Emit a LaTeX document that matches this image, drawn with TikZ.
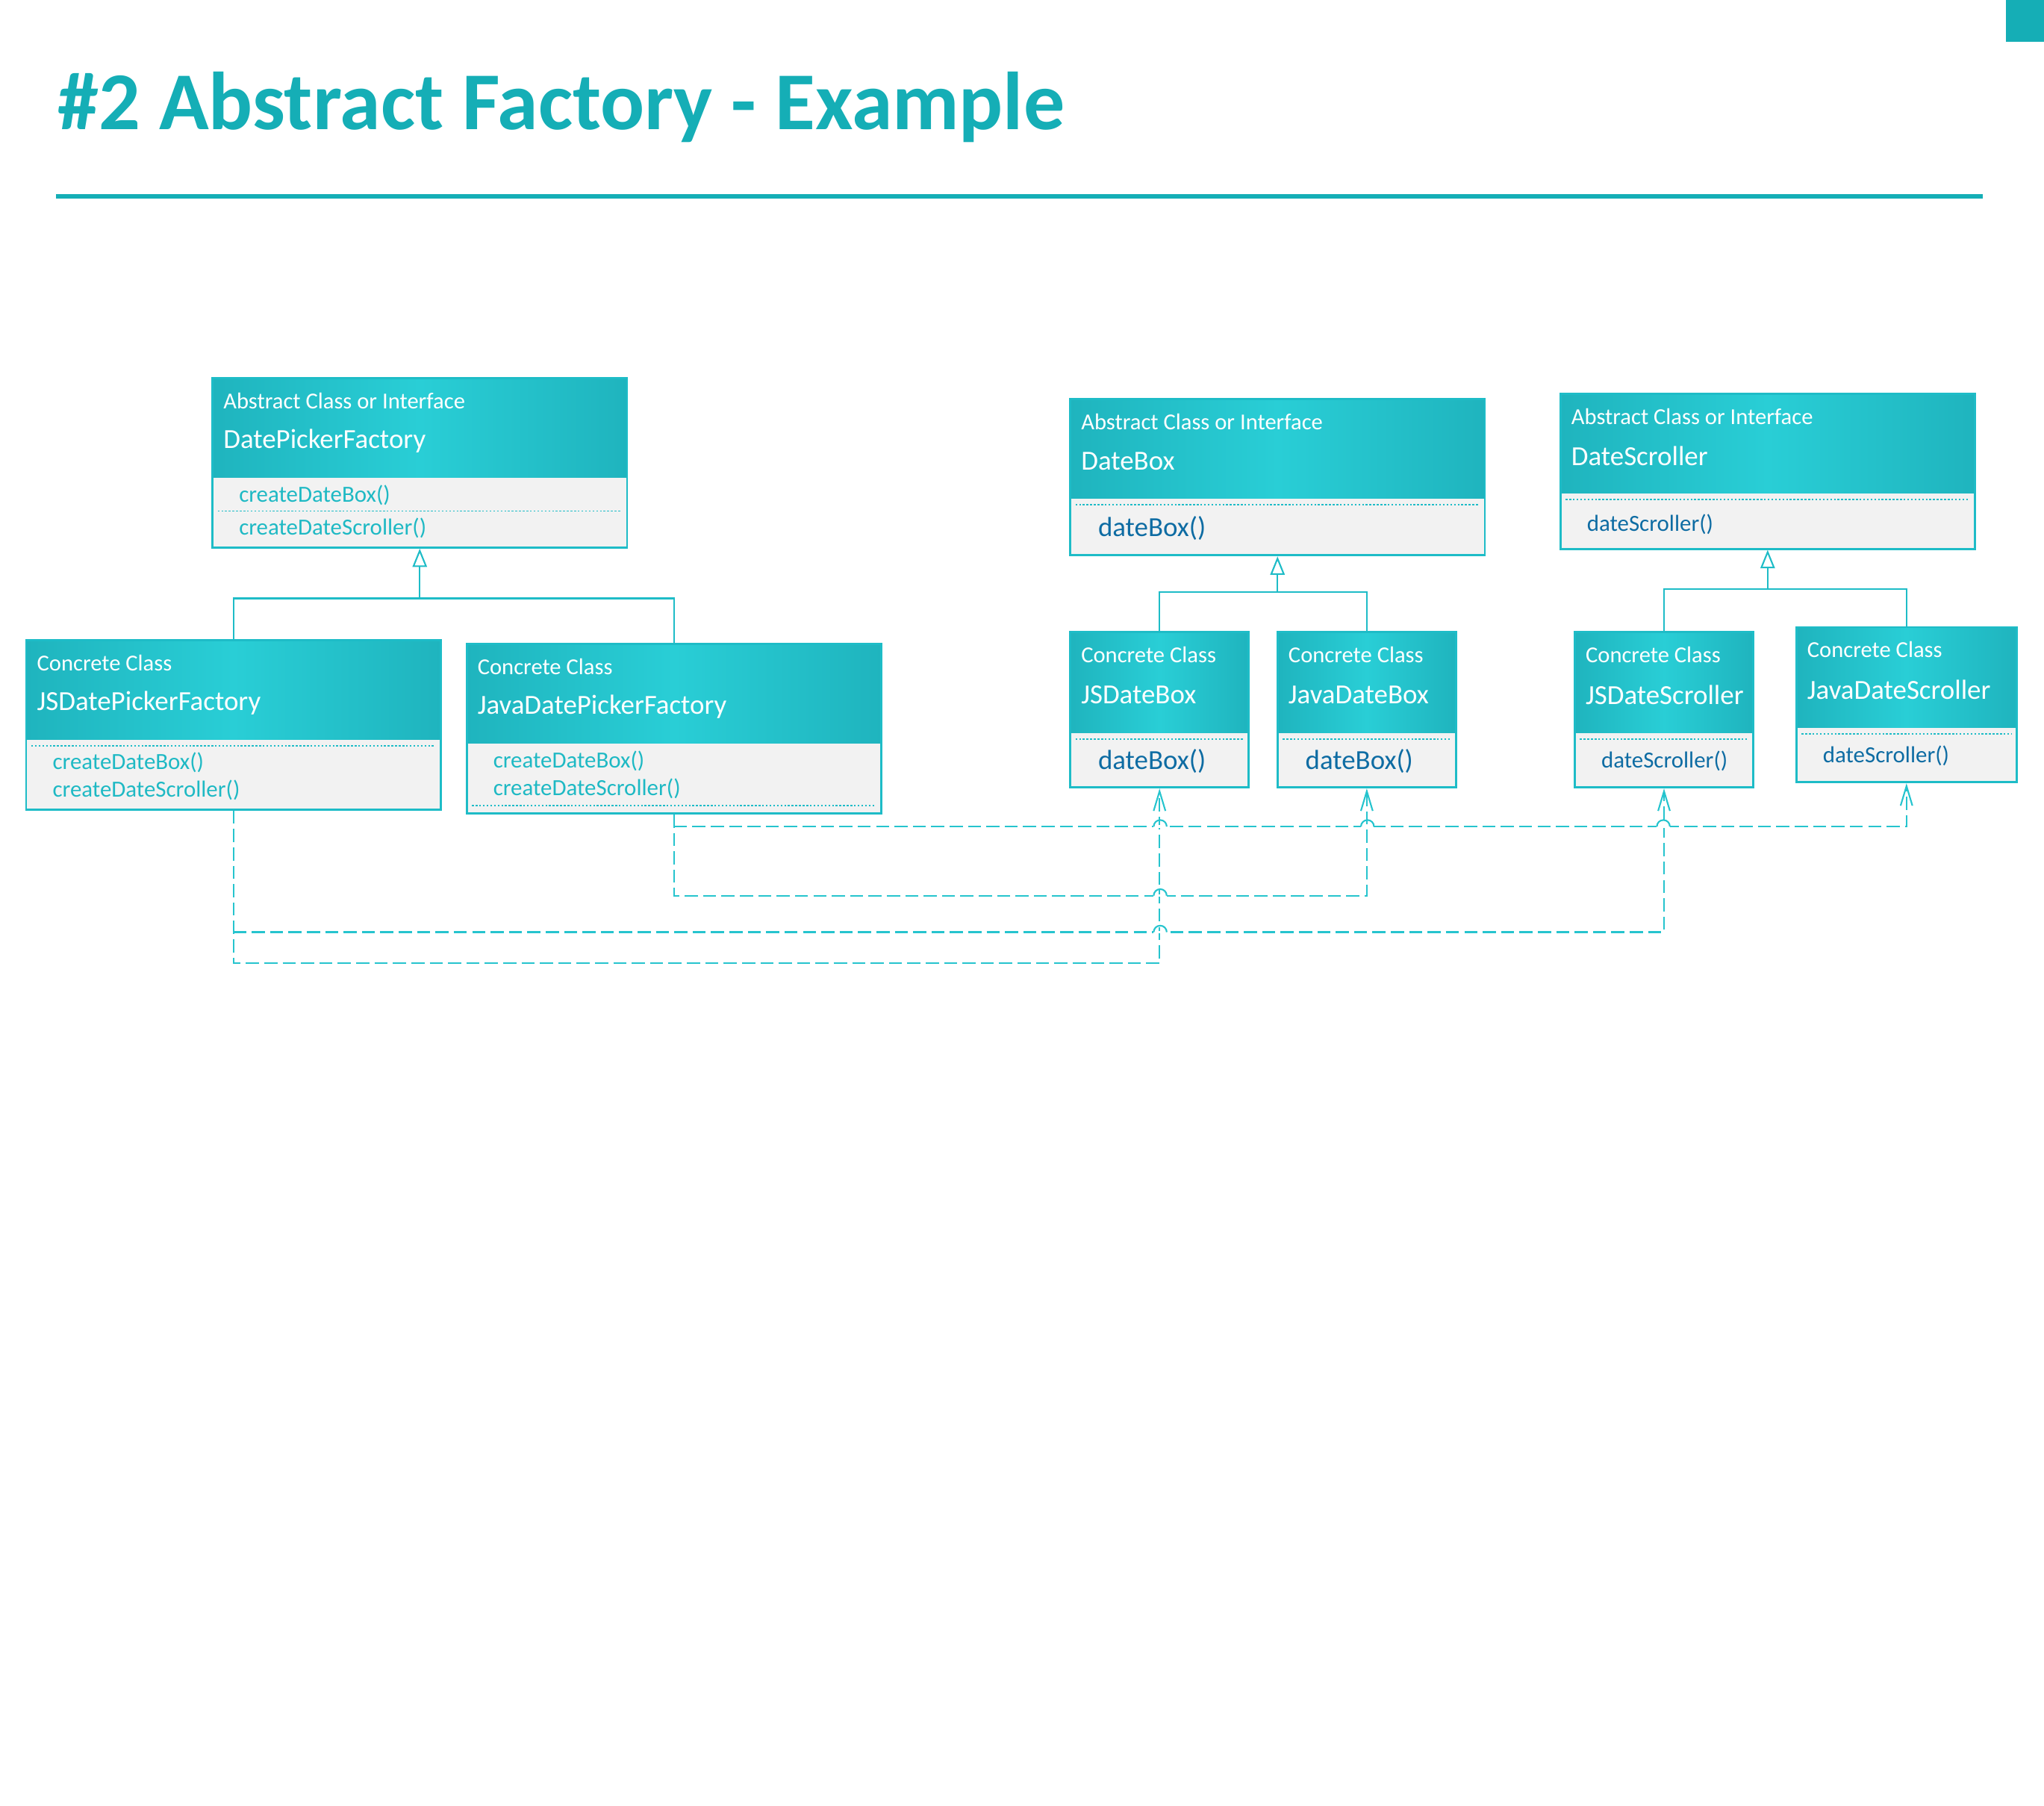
\documentclass[tikz,border=0pt]{standalone}
\usepackage{fontspec}
\setmainfont{Carlito}
\usetikzlibrary{arrows.meta,fit}

\definecolor{teal1}{RGB}{21,174,182}
\definecolor{rim}{RGB}{30,188,199}
\definecolor{hdrA}{RGB}{31,180,190}
\definecolor{hdrB}{RGB}{41,206,214}
\definecolor{pane}{RGB}{242,242,242}
\definecolor{opteal}{RGB}{30,185,196}
\definecolor{opblue}{RGB}{14,108,163}
\definecolor{wire}{RGB}{38,196,206}

\newcommand{\klass}[8]{\fill[pane] (#2,#6) rectangle (#4,#5);
	\shade[left color=hdrA, right color=hdrA, middle color=hdrB] (#2,#3) rectangle (#4,#6);
	\node[rim box, fit={(#2,#3) (#4,#5)}] (#1) {};
	\node[stereo] (#1-st) at (#2+8,#3+17.5) {#7};
	\node[cname] (#1-nm) at (#2+8,#3+48) {#8}}
\newcommand{\sep}[3]{\draw[sepline] (#1,#3) -- (#2,#3)}
\newcommand{\hop}[2]{\fill[white] (#1-5,#2-1) rectangle (#1+5,#2+1);
	\draw[wireline] (#1-5,#2) arc (180:360:5)}

\begin{document}
\begin{tikzpicture}[x=0.017462cm,y=-0.017462cm,
	rim box/.style={draw=rim, line width=0.8pt, inner sep=0pt},
	stereo/.style={anchor=west, inner sep=0pt, text=white, font=\fontsize{8.7}{10}\selectfont},
	cname/.style={anchor=west, inner sep=0pt, text=white, font=\fontsize{10.5}{12}\selectfont},
	op/.style={anchor=west, inner sep=0pt, text=opteal, font=\fontsize{8.8}{10}\selectfont},
	opb/.style={op, text=opblue},
	bigop/.style={opb, font=\fontsize{10.5}{12}\selectfont},
	sepline/.style={draw=rim, dash pattern=on 0.7pt off 0.7pt, line width=0.5pt},
	genline/.style={draw=rim, line width=0.6pt},
	gen/.style={genline, -{Triangle[open, length=7pt, width=5.5pt, fill=white]}},
	wireline/.style={draw=wire, line width=0.6pt},
	dep/.style={wireline, dash pattern=on 5pt off 2pt, -{Straight Barb[length=7.5pt, width=4.5pt]}}]
	\useasboundingbox (0,0) rectangle (1568,1385.3);
	% heading
	\fill[teal1] (1538.8,0) rectangle (1568,32.1);
	\node[anchor=base west, inner sep=0pt, text=teal1, font=\fontsize{31.3}{36}\selectfont\bfseries] (title) at (44,99.6) {\#2 Abstract Factory - Example};
	\draw[teal1, line width=1.7pt] (43,150.6) -- (1521,150.6);
	% factories
	\klass{dpf}{163}{290}{481}{420}{366}{Abstract Class or Interface}{DatePickerFactory};
	\node[op] (dpf-m1) at (183,380) {createDateBox()};
	\sep{167}{477}{392};
	\node[op] (dpf-m2) at (183,405) {createDateScroller()};
	\klass{jsf}{20}{491}{338}{621}{567}{Concrete Class}{JSDatePickerFactory};
	\sep{24}{334}{572};
	\node[op] (jsf-m1) at (40,585) {createDateBox()};
	\node[op] (jsf-m2) at (40,606) {createDateScroller()};
	\klass{javaf}{358}{494}{676}{624}{570}{Concrete Class}{JavaDatePickerFactory};
	\node[op] (javaf-m1) at (378,584) {createDateBox()};
	\node[op] (javaf-m2) at (378,605) {createDateScroller()};
	\sep{362}{672}{618};
	% products
	\klass{db}{821}{306}{1139}{426}{382}{Abstract Class or Interface}{DateBox};
	\sep{825}{1135}{387};
	\node[bigop] (db-m) at (842,405) {dateBox()};
	\klass{ds}{1197}{302}{1515}{421}{378}{Abstract Class or Interface}{DateScroller};
	\sep{1201}{1511}{383};
	\node[opb] (ds-m) at (1217,402) {dateScroller()};
	\klass{jsdb}{821}{485}{958}{604}{562}{Concrete Class}{JSDateBox};
	\sep{825}{954}{567};
	\node[bigop] (jsdb-m) at (842,584) {dateBox()};
	\klass{javadb}{980}{485}{1117}{604}{562}{Concrete Class}{JavaDateBox};
	\sep{984}{1113}{567};
	\node[bigop] (javadb-m) at (1001,584) {dateBox()};
	\klass{jsds}{1208}{485}{1345}{604}{562}{Concrete Class}{JSDateScroller};
	\sep{1212}{1341}{567};
	\node[opb] (jsds-m) at (1228,584) {dateScroller()};
	\klass{javads}{1378}{481}{1547}{600}{558}{Concrete Class}{JavaDateScroller};
	\sep{1382}{1543}{563};
	\node[opb] (javads-m) at (1398,580) {dateScroller()};
	% generalisation
	\coordinate (dpf-fork) at (322,459);
	\coordinate (db-fork) at (980,454);
	\coordinate (ds-fork) at (1356,452);
	\draw[genline] (jsf.north) |- (dpf-fork);
	\draw[genline] (javaf.north) |- (dpf-fork);
	\draw[gen] (dpf-fork) -- (dpf.south);
	\draw[genline] (jsdb.north) |- (db-fork);
	\draw[genline] (javadb.north) |- (db-fork);
	\draw[gen] (db-fork) -- (db.south);
	\draw[genline] (jsds.north) |- (ds-fork);
	\draw[genline] (javads.north) |- (ds-fork);
	\draw[gen] (ds-fork) -- (ds.south);
	% dependencies
	\coordinate (jsf-low) at (179,739);
	\coordinate (jsf-mid) at (179,715);
	\coordinate (javaf-low) at (517,687);
	\coordinate (javaf-high) at (517,634);
	\draw[dep] (jsf.south) -- (jsf-low) -| (jsdb.south);
	\draw[dep] (jsf-mid) -| (jsds.south);
	\draw[dep] (javaf.south) -- (javaf-low) -| (javadb.south);
	\draw[dep] (javaf-high) -| (javads.south);
	\hop{890}{634};
	\hop{1049}{634};
	\hop{1276}{634};
	\hop{890}{687};
	\hop{890}{715};
\end{tikzpicture}
\end{document}
